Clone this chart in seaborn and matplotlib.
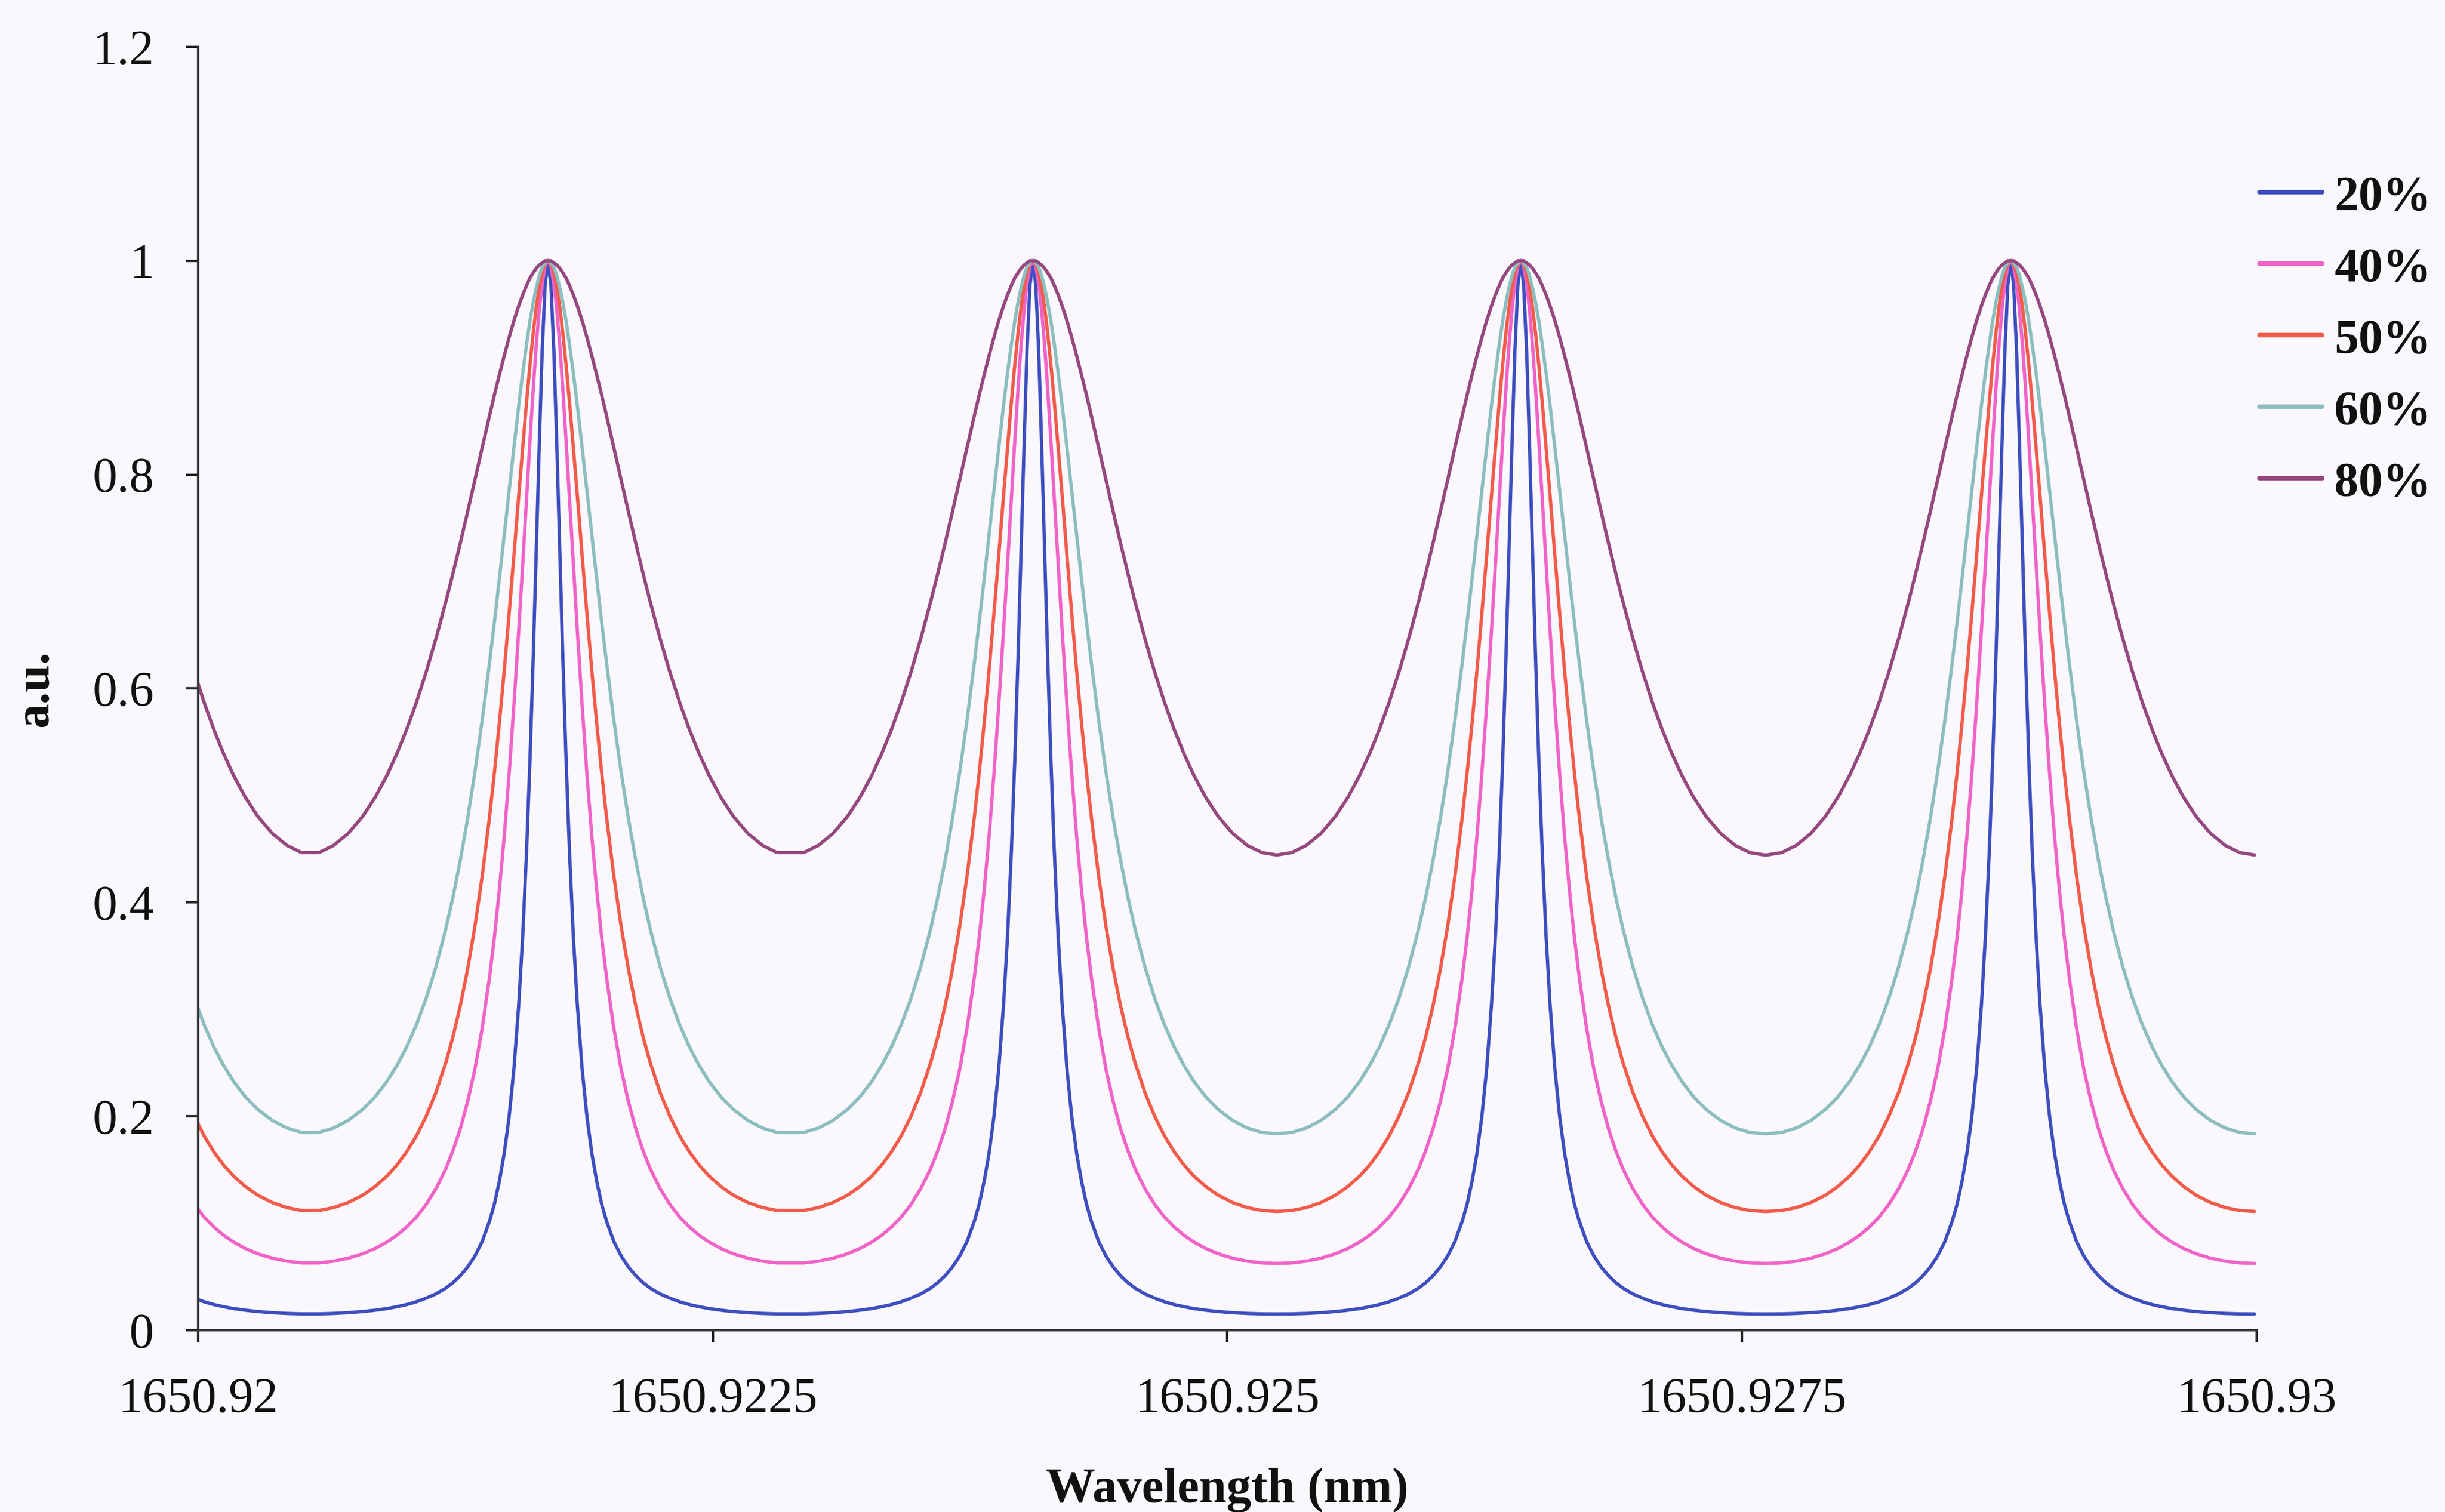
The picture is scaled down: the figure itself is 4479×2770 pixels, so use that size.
import matplotlib
matplotlib.use("Agg")
import numpy as np
import pandas as pd
import matplotlib.pyplot as plt
import seaborn as sns

# ---------------- data ----------------
SERIES = ["20%", "40%", "50%", "60%", "80%"]
COLORS = ["#3E4EC0", "#F063C8", "#F25B4B", "#8CBEBF", "#95487F"]

# wavelength of each transmission peak (nm); first one lies just left of the axis
PEAK_CENTRES_NM = [1650.91939, 1650.92170, 1650.924055, 1650.926425, 1650.928805]

# distance from a peak (nm) at which the curves were read
PROFILE_OFFSET_NM = [0.0, 0.0000142, 0.0000284, 0.0000426, 0.0000568, 0.0000710,
                     0.0000876, 0.0001042, 0.0001231, 0.0001421, 0.0001658, 0.0001894,
                     0.0002131, 0.0002368, 0.0002605, 0.0002842, 0.0003197, 0.0003552,
                     0.0003907, 0.0004262, 0.0004618, 0.0004973, 0.0005446, 0.0005920,
                     0.0006394, 0.0006867, 0.0007341, 0.0007814, 0.0008406, 0.0008998,
                     0.0009709, 0.0010419, 0.0011130, 0.0011840]

# curve heights (a.u.) at those offsets, one list per series
PROFILE_20 = [1.000, 0.977, 0.916, 0.828, 0.731, 0.635, 0.534, 0.448, 0.368, 0.305,
              0.244, 0.199, 0.165, 0.139, 0.118, 0.102, 0.083, 0.0695, 0.059, 0.051,
              0.0445, 0.0393, 0.034, 0.030, 0.0266, 0.024, 0.022, 0.0203, 0.0187, 0.0175,
              0.0164, 0.0157, 0.0153, 0.0152]
PROFILE_40 = [1.000, 0.995, 0.979, 0.954, 0.922, 0.883, 0.832, 0.778, 0.716, 0.655,
              0.584, 0.519, 0.461, 0.411, 0.3675, 0.330, 0.2825, 0.244, 0.2136, 0.1884,
              0.1678, 0.1507, 0.1323, 0.1176, 0.1059, 0.0965, 0.0888, 0.0826, 0.0764, 0.0716,
              0.0674, 0.0646, 0.0630, 0.0625]
PROFILE_50 = [1.000, 0.997, 0.989, 0.975, 0.957, 0.934, 0.903, 0.868, 0.825, 0.781,
              0.724, 0.669, 0.616, 0.567, 0.5214, 0.4798, 0.4247, 0.3775, 0.3374, 0.3033,
              0.2743, 0.2497, 0.2223, 0.2000, 0.1818, 0.1668, 0.1545, 0.1444, 0.1342, 0.1263,
              0.1194, 0.1147, 0.1120, 0.1111]
PROFILE_60 = [1.000, 0.998, 0.994, 0.986, 0.975, 0.962, 0.944, 0.922, 0.895, 0.865,
              0.825, 0.784, 0.743, 0.702, 0.6623, 0.6241, 0.5705, 0.5219, 0.4782, 0.4394,
              0.4049, 0.3746, 0.3397, 0.3103, 0.2857, 0.2649, 0.2476, 0.2329, 0.2181, 0.2065,
              0.1961, 0.1891, 0.1850, 0.1837]
PROFILE_80 = [1.000, 1.000, 0.998, 0.996, 0.993, 0.989, 0.984, 0.977, 0.968, 0.958,
              0.944, 0.928, 0.911, 0.893, 0.8746, 0.8551, 0.8253, 0.7951, 0.7652, 0.7359,
              0.7076, 0.6805, 0.6466, 0.6154, 0.5871, 0.5617, 0.5392, 0.5192, 0.4980, 0.4806,
              0.4645, 0.4533, 0.4466, 0.4444]
PROFILES = [PROFILE_20, PROFILE_40, PROFILE_50, PROFILE_60, PROFILE_80]

X_TICKS = [1650.92, 1650.9225, 1650.925, 1650.9275, 1650.93]
X_TICK_LABELS = ["1650.92", "1650.9225", "1650.925", "1650.9275", "1650.93"]
Y_TICKS = [0, 0.2, 0.4, 0.6, 0.8, 1.0, 1.2]
Y_TICK_LABELS = ["0", "0.2", "0.4", "0.6", "0.8", "1", "1.2"]
X_LABEL = "Wavelength (nm)"
Y_LABEL = "a.u."

# ---------------- assemble long table ----------------
rows = []
lo, hi = X_TICKS[0] - 0.0004, X_TICKS[-1] + 0.0004
for name, prof in zip(SERIES, PROFILES):
    for k, c in enumerate(PEAK_CENTRES_NM):
        left = (c - PEAK_CENTRES_NM[k - 1]) / 2 if k > 0 else PROFILE_OFFSET_NM[-1]
        right = (PEAK_CENTRES_NM[k + 1] - c) / 2 if k < len(PEAK_CENTRES_NM) - 1 else PROFILE_OFFSET_NM[-1]
        for d, v in zip(PROFILE_OFFSET_NM, prof):
            if d <= right + 1e-12:
                rows.append((name, c + d, v))
            if 0 < d <= left + 1e-12:
                rows.append((name, c - d, v))
df = pd.DataFrame(rows, columns=["series", "wavelength", "value"])
df = df[(df.wavelength >= lo) & (df.wavelength <= hi)].sort_values(["series", "wavelength"])

# ---------------- figure ----------------
sns.set_style("ticks")
plt.rcParams["font.family"] = ["Liberation Serif", "DejaVu Serif"]
plt.rcParams["axes.linewidth"] = 1.6

BG = "#FAF8FC"
fig = plt.figure(figsize=(22.395, 13.85), dpi=200, facecolor=BG)
ax = fig.add_axes([0.0810, 0.1202, 0.8420, 0.8488])
ax.set_facecolor(BG)

sns.lineplot(data=df, x="wavelength", y="value", hue="series", hue_order=SERIES,
             palette=COLORS, estimator=None, errorbar=None, sort=True,
             linewidth=2.2, ax=ax)

ax.set_xlim(X_TICKS[0], X_TICKS[-1])
ax.set_ylim(0, 1.2)
ax.set_xticks(X_TICKS)
ax.set_xticklabels(X_TICK_LABELS)
ax.set_yticks(Y_TICKS)
ax.set_yticklabels(Y_TICK_LABELS)
ax.tick_params(axis="both", direction="out", length=8, width=1.6, colors="#222222",
               labelsize=32.5, labelcolor="#111111")
ax.tick_params(axis="x", pad=23)
ax.tick_params(axis="y", pad=21)
for s in ["top", "right"]:
    ax.spines[s].set_visible(False)
for s in ["left", "bottom"]:
    ax.spines[s].set_color("#333333")

ax.set_xlabel(X_LABEL, fontsize=32.5, fontweight="bold", color="#111111")
ax.set_ylabel(Y_LABEL, fontsize=32.5, fontweight="bold", color="#111111")
ax.xaxis.set_label_coords(0.5, -0.107)
ax.yaxis.set_label_coords(-0.068, 0.50)

handles, labels = ax.get_legend_handles_labels()
ax.get_legend().remove()
leg = fig.legend(handles, labels, loc="upper left", bbox_to_anchor=(0.924, 0.884),
                 frameon=False, fontsize=32, handlelength=1.3, handletextpad=0.25,
                 labelspacing=0.56, borderpad=0, borderaxespad=0)
for t in leg.get_texts():
    t.set_fontweight("bold")
    t.set_color("#111111")
for h in leg.get_lines():
    h.set_linewidth(3.0)

fig.savefig("out.png", dpi=200, facecolor=BG)
